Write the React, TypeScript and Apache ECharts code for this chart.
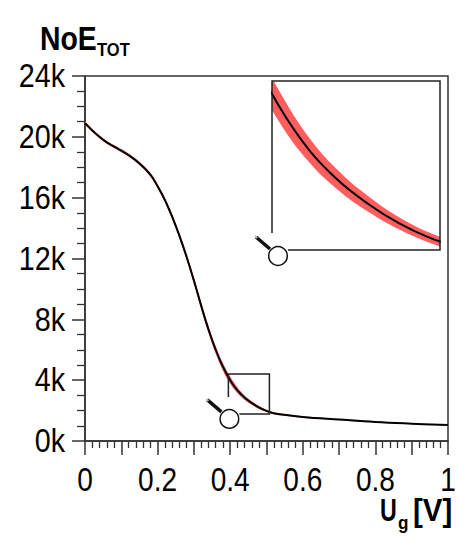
import React, { useEffect, useRef } from "react";
import * as echarts from "echarts";

// gate voltage [V]
const ug = [0, 0.03, 0.06, 0.09, 0.12, 0.15, 0.18, 0.2, 0.22, 0.24, 0.26, 0.28, 0.3, 0.32, 0.34, 0.36, 0.38, 0.4, 0.42, 0.44, 0.46, 0.48, 0.5, 0.52, 0.55, 0.6, 0.7, 0.8, 0.9, 1.0];
// NoE_TOT (mean)
const noe = [20900, 20200, 19640, 19230, 18800, 18250, 17520, 16750, 15850, 14750, 13500, 12100, 10550, 8900, 7350, 6000, 4880, 4000, 3330, 2850, 2490, 2200, 1980, 1830, 1720, 1580, 1410, 1250, 1140, 1050];
// error half-width
const noeErr = [90, 90, 90, 95, 100, 110, 120, 130, 140, 160, 180, 200, 215, 230, 240, 250, 255, 240, 190, 150, 120, 95, 78, 68, 58, 48, 38, 32, 26, 22];
// zoomed window shown in the inset
const zoomX = [0.395, 0.508];
const zoomY = [1780, 4400];
const yTickValues = [0, 4000, 8000, 12000, 16000, 20000, 24000];
const yTickLabels = ["0k", "4k", "8k", "12k", "16k", "20k", "24k"];
const xTickValues = [0, 0.2, 0.4, 0.6, 0.8, 1];
const xTickLabels = ["0", "0.2", "0.4", "0.6", "0.8", "1"];

const FONT = "'Liberation Sans', Arial, sans-serif";
const AX = "#333";
const RED = "#ff5e5e";
const SMOOTH = 0.4;

function bandSeries(xi: number) {
  return {
    type: "custom", xAxisIndex: xi, yAxisIndex: xi, clip: true, silent: true, z: 2,
    data: ug.map((x, i) => [x, noe[i] - noeErr[i], noe[i] + noeErr[i]]),
    encode: { x: 0, y: [1, 2] },
    renderItem: (params: any, api: any) => {
      if (params.dataIndex !== 0) return null;
      const up = ug.map((x, i) => api.coord([x, noe[i] + noeErr[i]]));
      const lo = ug.map((x, i) => api.coord([x, noe[i] - noeErr[i]])).reverse();
      return { type: "polygon", shape: { points: [...up, ...lo], smooth: SMOOTH }, style: { fill: RED, stroke: "none" } };
    },
  };
}

function meanSeries(xi: number) {
  return {
    type: "line", xAxisIndex: xi, yAxisIndex: xi, data: ug.map((x, i) => [x, noe[i]]), smooth: SMOOTH,
    symbol: "none", lineStyle: { color: "#000", width: 2 }, silent: true, z: 3,
  };
}

function magnifier(cx: number, cy: number) {
  return [
    { type: "line", shape: { x1: cx - 22, y1: cy - 19, x2: cx - 8, y2: cy - 7 }, style: { stroke: "#111", lineWidth: 3.5 }, z: 20 },
    { type: "line", shape: { x1: cx - 23, y1: cy - 20, x2: cx - 21, y2: cy - 18 }, style: { stroke: "#bbb", lineWidth: 2 }, z: 21 },
    { type: "circle", shape: { cx, cy, r: 9.3 }, style: { fill: "#fff", stroke: "#111", lineWidth: 1.5 }, z: 20 },
  ];
}

function label(text: string, x: number, y: number, size: number, sx: number, align: string, bold = false) {
  return {
    type: "text", x, y, scaleX: sx, z: 30, silent: true,
    style: { text, font: `${bold ? "bold " : ""}${size}px ${FONT}`, fill: "#000", align, verticalAlign: "middle" },
  };
}

export default function App() {
  const ref = useRef<HTMLDivElement>(null);
  useEffect(() => {
    if (!ref.current) return;
    const chart = echarts.init(ref.current, null, { renderer: "svg" });
    const option: any = {
      animation: false,
      backgroundColor: "#fff",
      grid: [
        { left: 85, top: 76, right: 21, bottom: 109, show: true, borderColor: AX, borderWidth: 1.5 },
        { left: 272, top: 81, right: 29, bottom: 300, show: false },
      ],
      xAxis: [
        {
          type: "value", gridIndex: 0, min: 0, max: 1, interval: 0.1,
          axisLine: { show: true, lineStyle: { color: AX, width: 1.5 } },
          axisTick: { show: true, length: 14, lineStyle: { color: AX, width: 1.5 } },
          minorTick: { show: true, splitNumber: 5, length: 7, lineStyle: { color: AX, width: 1.3 } },
          splitLine: { show: false },
          axisLabel: { show: false },
        },
        { type: "value", gridIndex: 1, min: zoomX[0], max: zoomX[1], show: false },
      ],
      yAxis: [
        {
          type: "value", gridIndex: 0, min: 0, max: 24000, interval: 4000,
          axisLine: { show: true, lineStyle: { color: AX, width: 1.5 } },
          axisTick: { show: true, length: 13, lineStyle: { color: AX, width: 1.5 } },
          minorTick: { show: true, splitNumber: 4, length: 8, lineStyle: { color: AX, width: 1.3 } },
          splitLine: { show: false },
          axisLabel: { show: false },
        },
        { type: "value", gridIndex: 1, min: zoomY[0], max: zoomY[1], show: false },
      ],
      series: [bandSeries(0), meanSeries(0), bandSeries(1), meanSeries(1)],
    };
    chart.setOption(option);

    const px = (g: number, p: number[]) => chart.convertToPixel({ gridIndex: g }, p) as number[];
    const tl = px(0, [zoomX[0], zoomY[1]]);
    const br = px(0, [zoomX[1], zoomY[0]]);
    const itl = px(1, [zoomX[0], zoomY[1]]);
    const ibr = px(1, [zoomX[1], zoomY[0]]);
    const origin = px(0, [0, 0]);

    const boxStyle = { stroke: "#222", lineWidth: 1.5, fill: "none" };
    const graphic: any[] = [
      {
        type: "polyline", z: 10,
        shape: { points: [[tl[0], br[1] - 17], [tl[0], tl[1]], [br[0], tl[1]], [br[0], br[1]], [tl[0] + 11, br[1]]] },
        style: boxStyle,
      },
      ...magnifier(tl[0] + 1, br[1] + 5),
      {
        type: "polyline", z: 10,
        shape: { points: [[itl[0], ibr[1] - 17], [itl[0], itl[1]], [ibr[0], itl[1]], [ibr[0], ibr[1]], [itl[0] + 16, ibr[1]]] },
        style: boxStyle,
      },
      ...magnifier(itl[0] + 6, ibr[1] + 6),
      ...yTickValues.map((v, i) => label(yTickLabels[i], origin[0] - 20, px(0, [0, v])[1], 33, 0.87, "right")),
      ...xTickValues.map((v, i) => label(xTickLabels[i], px(0, [v, 0])[0], origin[1] + 38, 33, 0.85, "center")),
      label("NoE", 40, 38.5, 33, 0.86, "left", true),
      label("TOT", 97, 50, 19, 0.87, "left", true),
      label("U", 380, 510, 31, 0.75, "left", true),
      label("g", 398, 523, 19, 0.9, "left", true),
      label("[V]", 413, 510, 31, 0.95, "left", true),
    ];
    chart.setOption({ graphic });
    return () => chart.dispose();
  }, []);
  return <div ref={ref} style={{ position: "absolute", left: 0, top: 0, width: 469, height: 550 }} />;
}
